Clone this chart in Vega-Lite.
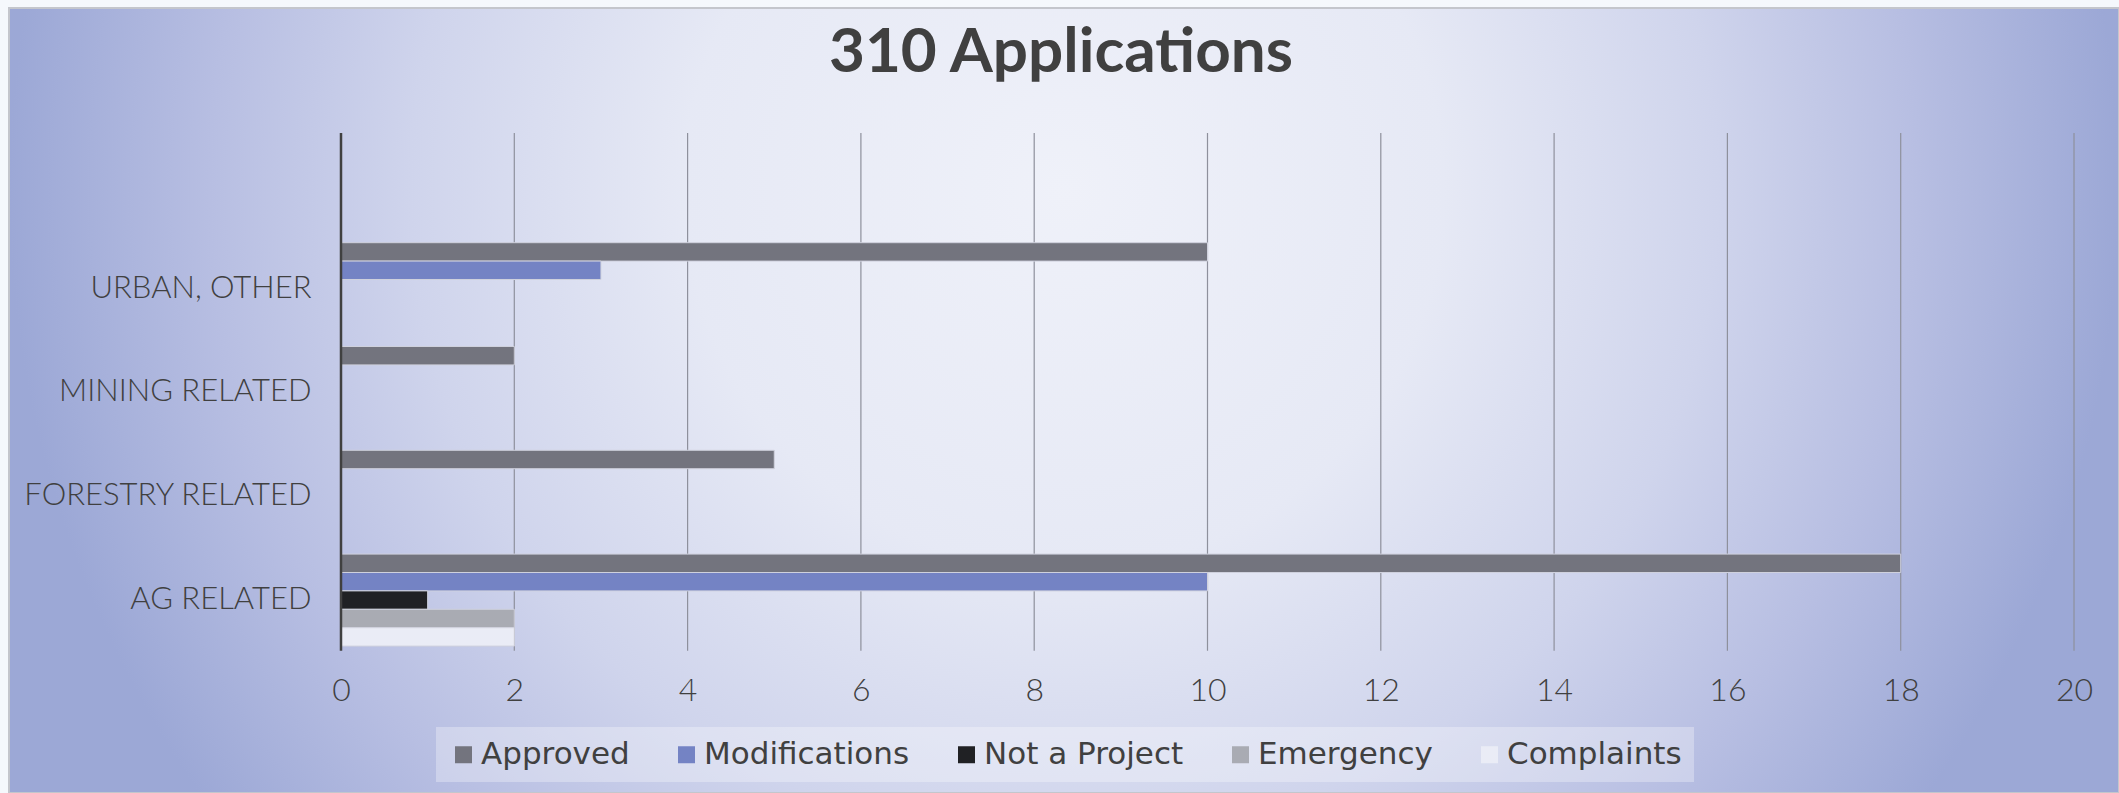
{
  "$schema": "https://vega.github.io/schema/vega-lite/v6.json",
  "width": 2110,
  "height": 785,
  "autosize": {"type": "none"},
  "padding": {"left": 9, "top": 8, "right": 0, "bottom": 0},
  "background": "#f5f8fc",
  "config": {
    "view": {
      "stroke": "#c4c6cc",
      "strokeWidth": 2,
      "fill": {
        "gradient": "radial",
        "x1": 0.5, "y1": 0.4, "r1": 0,
        "x2": 0.5, "y2": 0.4, "r2": 0.5,
        "stops": [
          {"offset": 0, "color": "#eff1f9"},
          {"offset": 0.36, "color": "#e6e9f5"},
          {"offset": 0.62, "color": "#cfd4ec"},
          {"offset": 0.81, "color": "#b7bee2"},
          {"offset": 1, "color": "#9ca8d6"}
        ]
      }
    }
  },
  "title": {
    "text": "310 Applications",
    "font": "Lato",
    "fontSize": 62,
    "fontWeight": 700,
    "color": "#404040",
    "anchor": "middle",
    "frame": "group",
    "baseline": "alphabetic",
    "offset": -64,
    "dy": 62,
    "dx": -3
  },
  "datasets": {
    "apps": [
      {"category": "URBAN, OTHER", "series": "Approved", "count": 10},
      {"category": "URBAN, OTHER", "series": "Modifications", "count": 3},
      {"category": "MINING RELATED", "series": "Approved", "count": 2},
      {"category": "FORESTRY RELATED", "series": "Approved", "count": 5},
      {"category": "AG RELATED", "series": "Approved", "count": 18},
      {"category": "AG RELATED", "series": "Modifications", "count": 10},
      {"category": "AG RELATED", "series": "Not a Project", "count": 1},
      {"category": "AG RELATED", "series": "Emergency", "count": 2},
      {"category": "AG RELATED", "series": "Complaints", "count": 2}
    ],
    "grid": [
      {"t": 2}, {"t": 4}, {"t": 6}, {"t": 8}, {"t": 10},
      {"t": 12}, {"t": 14}, {"t": 16}, {"t": 18}, {"t": 20}
    ]
  },
  "layer": [
    {
      "data": {"name": "grid"},
      "mark": {"type": "rule", "color": "#8e909c", "strokeWidth": 1.2},
      "encoding": {
        "x": {
          "field": "t",
          "type": "quantitative",
          "title": null,
          "scale": {"domain": [-3.8315, 20.5193], "nice": false, "zero": false},
          "axis": {
            "orient": "bottom",
            "offset": -142.3,
            "values": [0, 2, 4, 6, 8, 10, 12, 14, 16, 18, 20],
            "format": "d",
            "domain": false,
            "ticks": false,
            "grid": false,
            "labelPadding": 50,
            "labelBaseline": "alphabetic",
            "labelFont": "Lato",
            "labelFontSize": 32,
            "labelFontWeight": 300,
            "labelColor": "#404040",
            "labelFlush": false,
            "labelOverlap": false,
            "title": null
          }
        },
        "y": {"datum": 0, "type": "quantitative", "scale": {"domain": [-0.27487, 1.24146], "nice": false, "zero": false}, "axis": null},
        "y2": {"datum": 1}
      }
    },
    {
      "data": {"name": "apps"},
      "mark": {"type": "bar", "stroke": "#cfd1dd", "strokeWidth": 1},
      "encoding": {
        "y": {
          "field": "category",
          "type": "nominal",
          "title": null,
          "scale": {
            "domain": ["_pad1", "_pad2", "URBAN, OTHER", "MINING RELATED", "FORESTRY RELATED", "AG RELATED", "_pad3"],
            "paddingInner": 0,
            "paddingOuter": 0.2813,
            "align": 0.363
          },
          "axis": {
            "orient": "left",
            "offset": -332,
            "values": ["URBAN, OTHER", "MINING RELATED", "FORESTRY RELATED", "AG RELATED"],
            "domain": false,
            "ticks": false,
            "grid": false,
            "labelPadding": 30,
            "labelFont": "Lato",
            "labelFontSize": 31,
            "labelFontWeight": 300,
            "labelColor": "#404040",
            "labelLimit": 0,
            "title": null
          }
        },
        "yOffset": {
          "field": "series",
          "type": "nominal",
          "scale": {
            "domain": ["Approved", "Modifications", "Not a Project", "Emergency", "Complaints"],
            "paddingInner": 0,
            "paddingOuter": 0.3207
          }
        },
        "x": {
          "field": "count",
          "type": "quantitative",
          "title": null,
          "scale": {"domain": [-3.8315, 20.5193], "nice": false, "zero": false}
        },
        "color": {
          "field": "series",
          "type": "nominal",
          "scale": {
            "domain": ["Approved", "Modifications", "Not a Project", "Emergency", "Complaints"],
            "range": ["#73747e", "#7483c4", "#202124", "#a9abb3", "#eaecf6"]
          },
          "legend": {
            "orient": "none",
            "legendX": 427,
            "legendY": 719,
            "direction": "horizontal",
            "title": null,
            "symbolType": "square",
            "symbolSize": 289,
            "symbolStrokeWidth": 0,
            "symbolOpacity": 1,
            "labelOffset": 2,
            "columnPadding": 41,
            "padding": 12,
            "fillColor": "rgba(255,255,255,0.3)",
            "labelFont": "DejaVu Sans",
            "labelFontSize": 31,
            "labelColor": "#404040",
            "labelLimit": 0
          }
        }
      }
    },
    {
      "data": {"values": [{}]},
      "mark": {"type": "rule", "color": "#404040", "strokeWidth": 2.5},
      "encoding": {
        "x": {"datum": 0, "type": "quantitative", "title": null, "scale": {"domain": [-3.8315, 20.5193], "nice": false, "zero": false}},
        "y": {"datum": 0, "type": "quantitative", "scale": {"domain": [-0.27487, 1.24146], "nice": false, "zero": false}, "axis": null},
        "y2": {"datum": 1}
      }
    }
  ],
  "resolve": {"scale": {"y": "independent"}, "axis": {"y": "independent"}}
}
